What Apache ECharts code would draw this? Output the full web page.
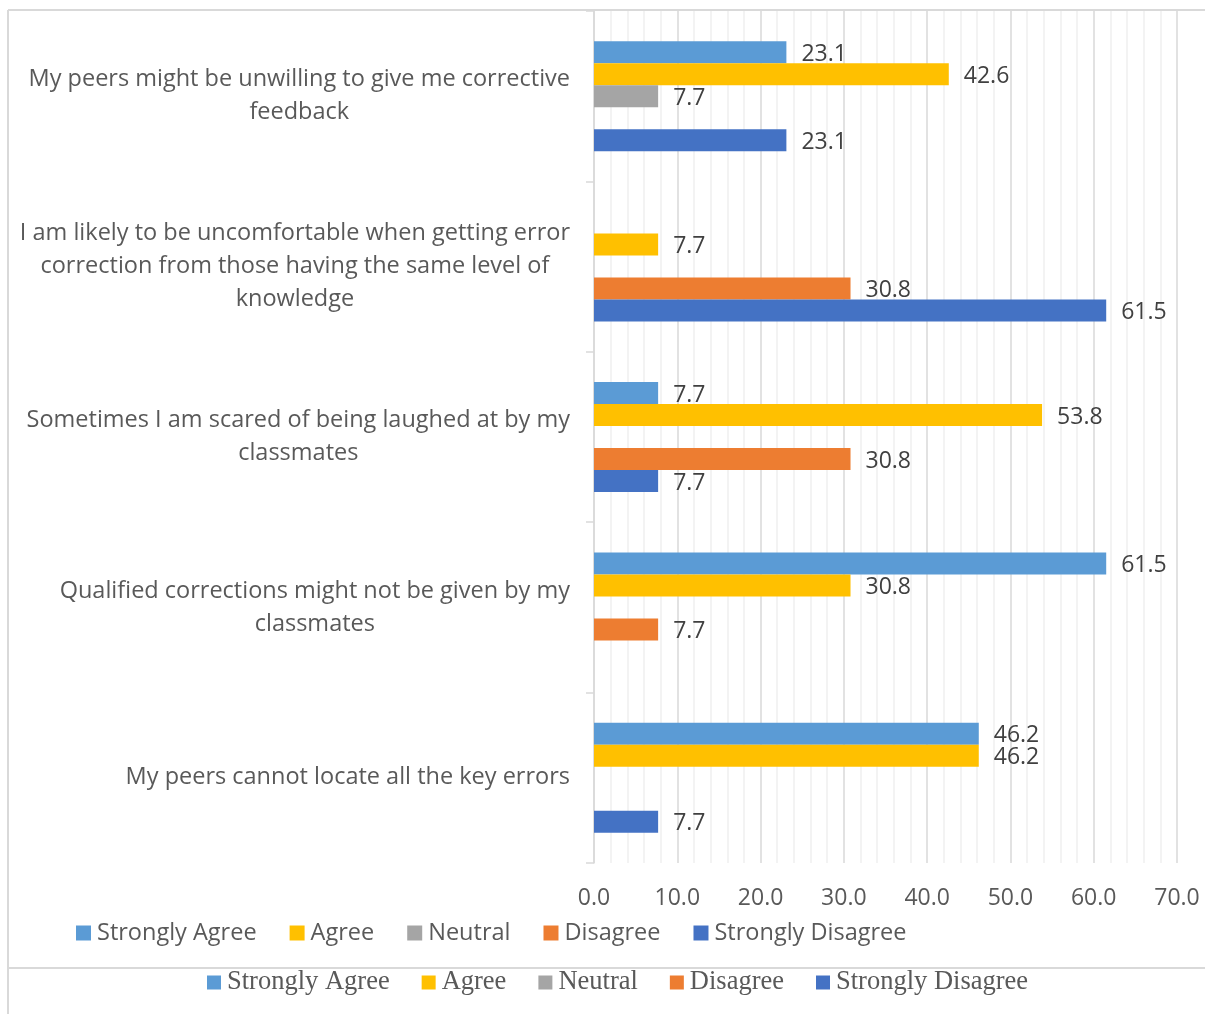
<!DOCTYPE html>
<html>
<head>
<meta charset="utf-8">
<script src="https://cdn.jsdelivr.net/npm/echarts@6/dist/echarts.min.js"></script>
<style>
  html, body { margin: 0; padding: 0; background: #ffffff; }
  #chart { width: 1205px; height: 1014px; }
</style>
</head>
<body>
<div id="chart"></div>
<script>
// Statements about peer correction (top to bottom)
const categories = [
  'My peers might be unwilling to give me corrective\nfeedback',
  'I am likely to be uncomfortable when getting error\ncorrection from those having the same level of\nknowledge',
  'Sometimes I am scared of being laughed at by my\nclassmates',
  'Qualified corrections might not be given by my\nclassmates',
  'My peers cannot locate all the key errors'
];

// Percentage of respondents for each response option
const stronglyAgree    = [23.1, null, 7.7, 61.5, 46.2];
const agree            = [42.6, 7.7, 53.8, 30.8, 46.2];
const neutral          = [7.7, null, null, null, null];
const disagree         = [null, 30.8, 30.8, 7.7, null];
const stronglyDisagree = [23.1, 61.5, 7.7, null, 7.7];

const seriesNames = ['Strongly Agree', 'Agree', 'Neutral', 'Disagree', 'Strongly Disagree'];
const seriesColors = ['#5B9BD5', '#FFC000', '#A5A5A5', '#ED7D31', '#4472C4'];
const seriesData = [stronglyAgree, agree, neutral, disagree, stronglyDisagree];

const SANS = 'Open Sans';
const SERIF = 'Liberation Serif';
const FS = 23.5;

const chart = echarts.init(document.getElementById('chart'), null, { renderer: 'canvas' });

const series = seriesNames.map((name, i) => ({
  name: name,
  type: 'bar',
  data: seriesData[i],
  barWidth: 22,
  barGap: '0%',
  itemStyle: { color: seriesColors[i] },
  label: {
    show: true,
    position: 'right',
    distance: 15,
    offset: [0, 2],
    formatter: (p) => p.value == null ? '' : Number(p.value).toFixed(1),
    fontFamily: SANS,
    fontSize: 23,
    color: '#404040'
  }
}));

const option = {
  backgroundColor: '#ffffff',
  animation: false,
  color: seriesColors,
  grid: { left: 594, right: 28, top: 11, bottom: 151, containLabel: false },
  xAxis: {
    type: 'value',
    min: 0,
    max: 70,
    interval: 10,
    axisLine: { show: false },
    axisTick: { show: false },
    axisLabel: {
      margin: 24,
      fontFamily: SANS,
      fontSize: 23,
      color: '#595959',
      formatter: (v) => v.toFixed(1)
    },
    splitLine: { show: true, lineStyle: { color: '#d9d9d9', width: 1.5 } },
    minorTick: { show: false, splitNumber: 5 },
    minorSplitLine: { show: true, lineStyle: { color: '#f0f0f0', width: 1.5 } }
  },
  yAxis: {
    type: 'category',
    data: categories,
    inverse: true,
    axisLine: { show: true, lineStyle: { color: '#d9d9d9', width: 1.5 } },
    axisTick: { show: true, length: 8, lineStyle: { color: '#d9d9d9', width: 1.5 } },
    axisLabel: {
      margin: 24,
      formatter: (v) => v.split('\n').map((l) => '{c|' + l + '}').join('\n'),
      rich: {
        c: {
          align: 'center',
          fontFamily: SANS,
          fontSize: FS,
          lineHeight: 33,
          color: '#595959'
        }
      }
    }
  },
  legend: [
    {
      data: seriesNames,
      left: 76,
      top: 921,
      padding: 0,
      itemWidth: 15,
      itemHeight: 15,
      itemGap: 33,
      icon: 'rect',
      selectedMode: false,
      textStyle: { fontFamily: SANS, fontSize: FS, color: '#595959', padding: [0, 0, 0, 1] }
    },
    {
      data: seriesNames,
      left: 207,
      top: 969,
      padding: 0,
      itemWidth: 14,
      itemHeight: 14,
      itemGap: 32,
      icon: 'rect',
      selectedMode: false,
      textStyle: { fontFamily: SERIF, fontSize: 26.5, color: '#595959', padding: [0, 0, 0, 1] }
    }
  ],
  graphic: [
    { type: 'line', shape: { x1: 8, y1: 10, x2: 1205, y2: 10 }, style: { stroke: '#d9d9d9', lineWidth: 2 }, silent: true },
    { type: 'line', shape: { x1: 8, y1: 10, x2: 8, y2: 1014 }, style: { stroke: '#d9d9d9', lineWidth: 2 }, silent: true },
    { type: 'line', shape: { x1: 8, y1: 968, x2: 1205, y2: 968 }, style: { stroke: '#d9d9d9', lineWidth: 2 }, silent: true }
  ],
  series: series
};

chart.setOption(option);
</script>
</body>
</html>
